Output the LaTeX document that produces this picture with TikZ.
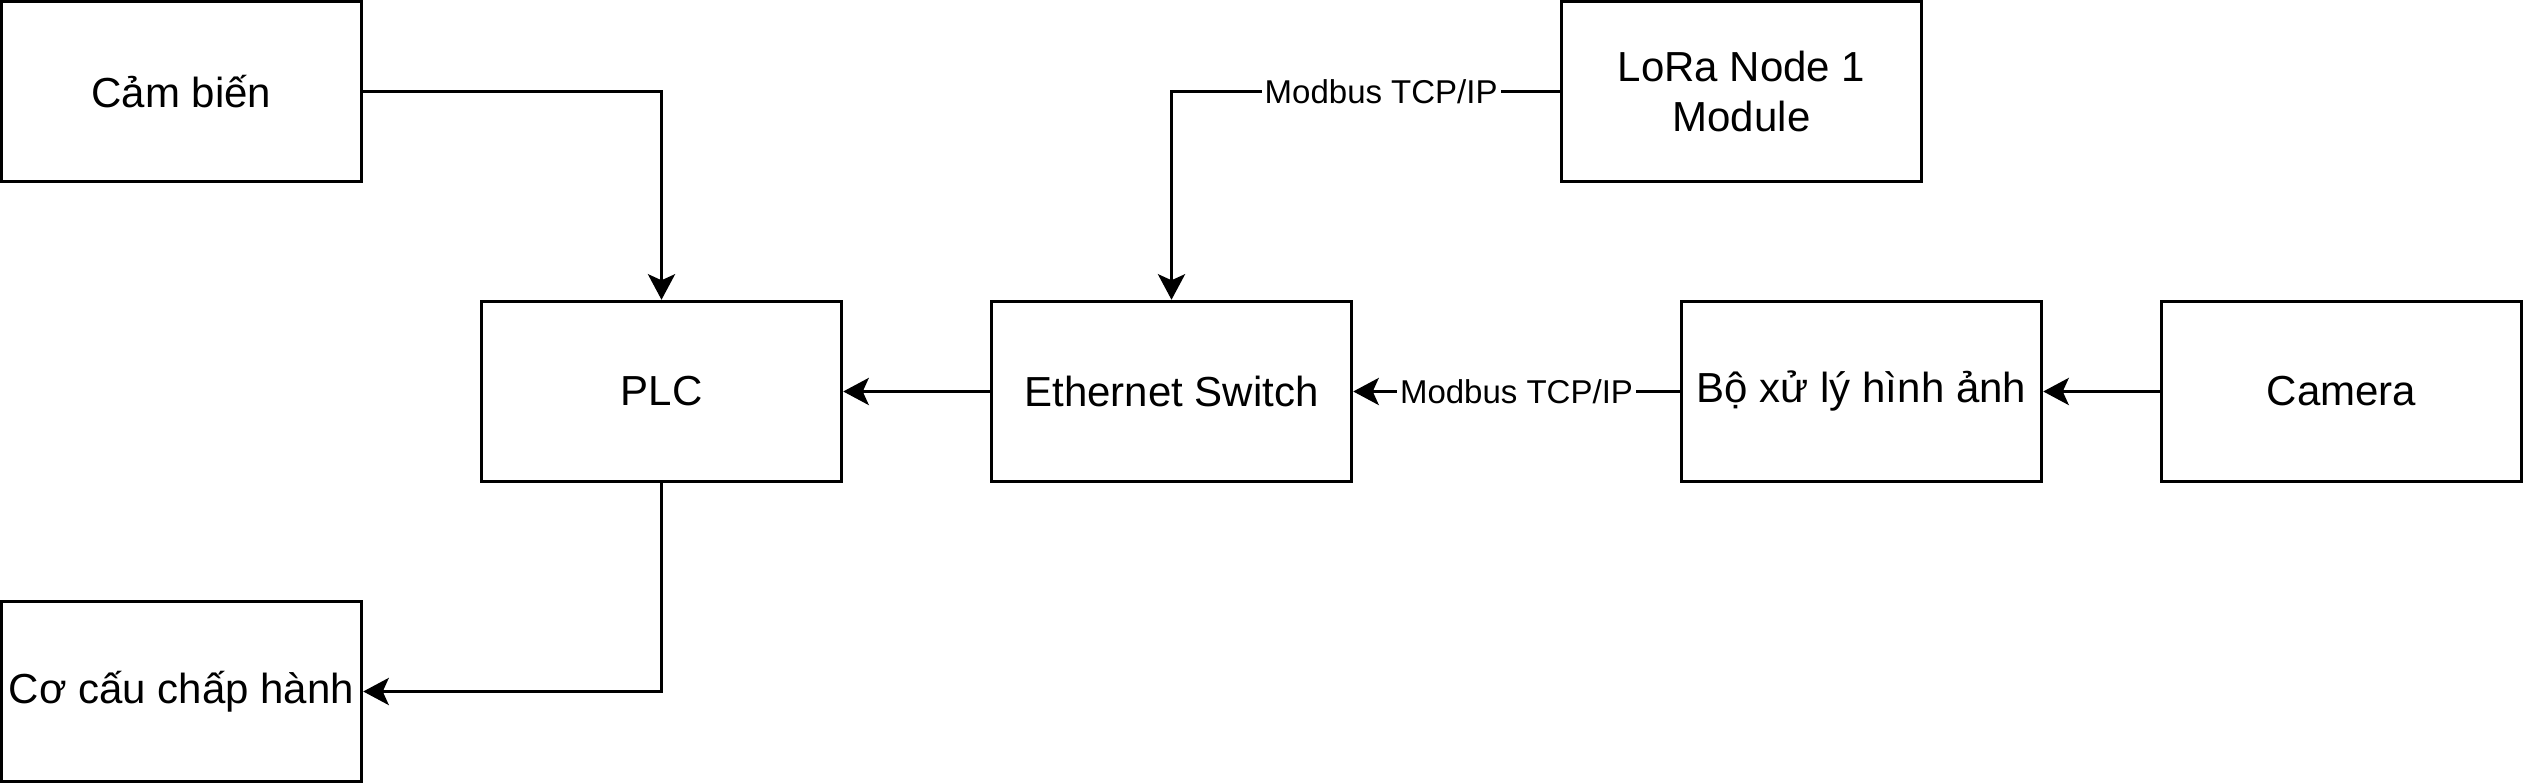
\documentclass[tikz,border=0pt]{standalone}
\usepackage{fontspec}
\setmainfont{Liberation Sans}
\usetikzlibrary{arrows.meta}
\begin{document}
\begin{tikzpicture}[x=1pt,y=-1pt,
  box/.style={draw=black,line width=1.15pt,fill=white,minimum width=120pt,minimum height=60pt,inner sep=0pt,align=center,font=\fontsize{14}{16.7}\selectfont},
  arr/.style={line width=1.15pt,-{Stealth[length=8.5pt,width=9pt,inset=2pt]}},
  lbl/.style={fill=white,inner sep=1pt,font=\fontsize{11}{13}\selectfont}]
\useasboundingbox (-0.5,-0.5) rectangle (840.5,260.5);
\node[box] (cam) at (60,30) {Cảm biến};
\node[box] (plc) at (220,130) {PLC};
\node[box] (act) at (60,230) {Cơ cấu chấp hành};
\node[box] (eth) at (390,130) {Ethernet Switch};
\node[box] (lora) at (580,30) {LoRa Node 1\\Module};
\node[box] (bo) at (620,130) {Bộ xử lý hình ảnh};
\node[box] (camera) at (780,130) {Camera};
\draw[arr] (cam.east) -| (plc.north);
\draw[arr] (plc.south) |- (act.east);
\draw[arr] (eth.west) -- (plc.east);
\draw[arr] (lora.west) -| node[lbl,pos=0.23]{Modbus TCP/IP} (eth.north);
\draw[arr] (bo.west) -- node[lbl]{Modbus TCP/IP} (eth.east);
\draw[arr] (camera.west) -- (bo.east);
\end{tikzpicture}
\end{document}
